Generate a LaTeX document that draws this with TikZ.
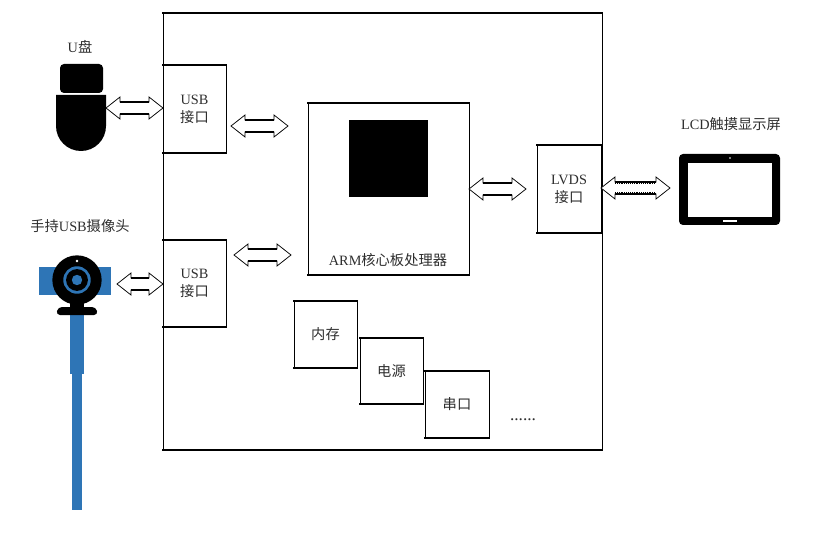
\documentclass[tikz,border=0pt]{standalone}
\usepackage{fontspec}
\setmainfont{Liberation Serif}
\newfontfamily\cjk{Noto Sans CJK SC}
\usetikzlibrary{calc}
\definecolor{barblue}{HTML}{2E75B6}
\definecolor{inkgray}{gray}{0.18}
\tikzset{
  x=0.75pt,y=-0.75pt,
  block/.style={draw=black,line width=0.6pt,fill=white,inner sep=0pt,outer sep=0pt,align=center,text=inkgray,font=\fontsize{10.7}{13.6}\selectfont,anchor=north west},
  label/.style={inner sep=0pt,text=inkgray,font=\fontsize{10.7}{13.6}\selectfont},
  hollow/.style={draw=black,line width=0.55pt,fill=white,line join=miter},
  shaft/.style={draw=black,line width=1.4pt},
  thinshaft/.style={draw=black,line width=0.8pt},
  hedge/.style={draw=black,line width=1.4pt,line cap=rect},
  solid black/.style={fill=black,draw=none}
}
\newcommand{\dblarrow}[3][shaft]{%
  \path let \p1=(#2),\p2=(#3) in
    coordinate (ta) at (\x1,\y1) coordinate (tb) at (\x2,\y2);
  \draw[hollow] (ta) -- ($(ta)+(14,-11)$) -- ($(ta)+(14,-6)$) -- ($(tb)+(-14,-6)$) -- ($(tb)+(-14,-11)$) -- (tb)
     -- ($(tb)+(-14,11)$) -- ($(tb)+(-14,6)$) -- ($(ta)+(14,6)$) -- ($(ta)+(14,11)$) -- cycle;
  \draw[#1] ($(ta)+(14,-6)$) -- ($(tb)+(-14,-6)$);
  \draw[#1] ($(ta)+(14,6)$) -- ($(tb)+(-14,6)$);
}
\begin{document}
\begin{tikzpicture}
\useasboundingbox (0,0) rectangle (819,542);
% main board
\node[block,minimum width=329.25pt,minimum height=327.75pt] (board) at (163,13) {};
% blocks
\node[block,minimum width=47.25pt,minimum height=66pt] (usbA) at (163,65) {USB\\{\cjk 接口}};
\node[block,minimum width=47.25pt,minimum height=65.25pt] (usbB) at (163,240) {USB\\{\cjk 接口}};
\node[block,minimum width=120.75pt,minimum height=129pt] (arm) at (308,103) {};
\node[solid black,anchor=north west,minimum width=59.25pt,minimum height=57.75pt,inner sep=0pt,outer sep=0pt] (chip) at (349,120) {};
\node[label] (armlabel) at (388,260) {ARM{\cjk 核心板处理器}};
\node[block,minimum width=48pt,minimum height=66pt] (lvds) at (537,145) {LVDS\\{\cjk 接口}};
\node[block,minimum width=47.25pt,minimum height=50.25pt] (mem) at (294,301) {\cjk 内存};
\node[block,minimum width=47.25pt,minimum height=49.5pt] (pow) at (360,338) {\cjk 电源};
\node[block,minimum width=48pt,minimum height=50.25pt] (uart) at (425,371) {\cjk 串口};
\node[label,font=\fontsize{13}{14}\selectfont] (more) at (523,420) {......};
% heavier horizontal edges, as in the reference
\foreach \n in {board,usbA,usbB,arm,lvds,mem,pow,uart}{
  \draw[hedge] (\n.north west) -- (\n.north east);
  \draw[hedge] (\n.south west) -- (\n.south east);
}
% outer labels
\node[label] (udisk) at (80,47) {U{\cjk 盘}};
\node[label] (cam) at (80,226) {{\cjk 手持}USB{\cjk 摄像头}};
\node[label] (lcd) at (731,124) {LCD{\cjk 触摸显示屏}};
% U disk icon
\fill[black,rounded corners=3pt] (60,93) -- (60,64) -- (103,64) -- (103,93) -- cycle;
\fill[black] (56,95) -- (106,95) -- (106,126) arc[start angle=0,end angle=180,x radius=25,y radius=25] -- cycle;
% camera
\fill[barblue] (39,267) rectangle (111,295);
\fill[barblue] (70,300) rectangle (84,374);
\fill[barblue] (72,374) rectangle (82,510);
\fill[black] (70,298) rectangle (84,308);
\fill[black,rounded corners=3pt] (56,315) -- (58,307) -- (96,307) -- (98,315) -- cycle;
\fill[black] (77,280) circle[radius=18.5pt];
\fill[barblue] (77,280) circle[radius=10.3pt];
\fill[black] (77,280) circle[radius=8.2pt];
\fill[barblue] (77,280) circle[radius=3.9pt];
\fill[white] (77,261) circle[radius=1.1pt];
% tablet
\fill[black,rounded corners=3pt] (679,154) rectangle (780,225);
\fill[white] (688,163) rectangle (772,217);
\fill[white] (723,220) rectangle (737,222);
\fill[white] (730,158) circle[radius=0.7pt];
% connectors
\coordinate (a1) at (106,108); \coordinate (a2) at (usbA.west |- a1);
\dblarrow{a1}{a2}
\coordinate (b1) at (117,284); \coordinate (b2) at (usbB.west |- b1);
\dblarrow{b1}{b2}
\coordinate (c1) at (231,126); \coordinate (c2) at (288,126);
\dblarrow{c1}{c2}
\coordinate (d1) at (234,255); \coordinate (d2) at (291,255);
\dblarrow{d1}{d2}
\coordinate (e1) at (arm.east |- 0,189); \coordinate (e2) at (526,189);
\dblarrow{e1}{e2}
\coordinate (f1) at (lvds.east |- 0,188); \coordinate (f2) at (670,188);
\dblarrow[thinshaft]{f1}{f2}
\draw[densely dotted,line width=0.4pt] ($(f1)+(14,-4.5)$) -- ($(f2)+(-14,-4.5)$);
\draw[densely dotted,line width=0.4pt] ($(f1)+(14,4.5)$) -- ($(f2)+(-14,4.5)$);
\end{tikzpicture}
\end{document}
